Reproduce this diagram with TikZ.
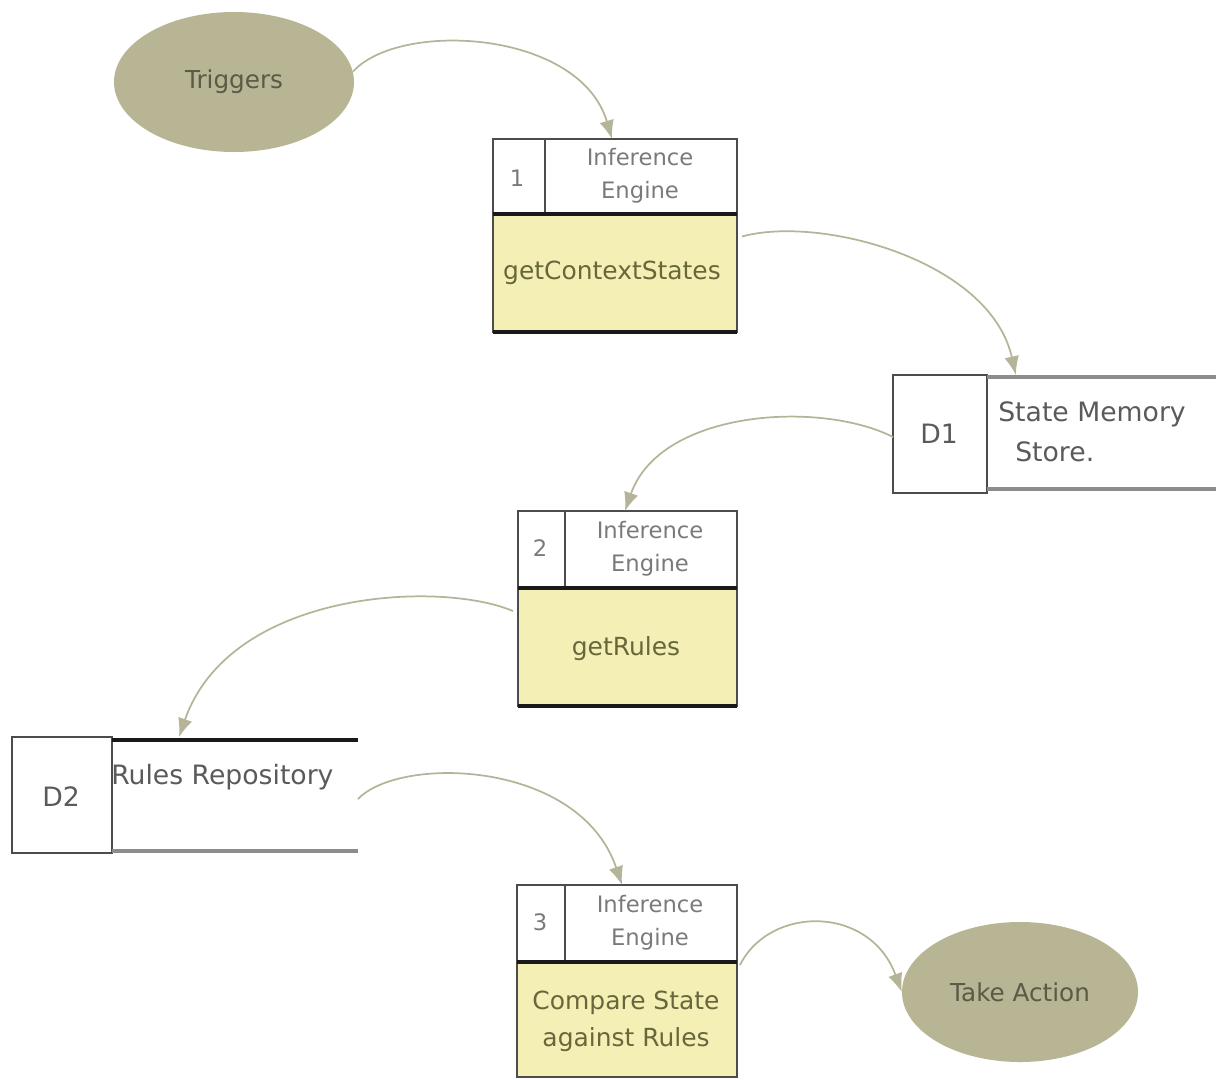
\documentclass[tikz,border=0pt]{standalone}
\usepackage{fontspec}
\setmainfont{DejaVu Sans}
\usetikzlibrary{shapes.geometric,arrows.meta}
\definecolor{olivefill}{HTML}{B7B593}
\definecolor{procyellow}{HTML}{F3EFB5}
\definecolor{flowcol}{HTML}{B5B498}
\definecolor{bodytext}{HTML}{68673C}
\definecolor{headtext}{HTML}{7A7A7A}
\definecolor{ovaltext}{HTML}{5A5A46}
\definecolor{storetext}{HTML}{5A5A5A}
\tikzset{
  oval/.style={ellipse, fill=olivefill, draw=none, text=ovaltext, font=\fontsize{18.5}{22}\selectfont, inner sep=0pt},
  hook/.style={draw=none, inner sep=0pt, outer sep=0pt},
  outline/.style={draw=black!70, line width=1.4pt},
  heavy/.style={draw=black!90, line width=2.4pt},
  openline/.style={draw=black!45, line width=2.4pt},
  headlbl/.style={text=headtext, font=\fontsize{17}{25}\selectfont, align=center, inner sep=0pt},
  numlbl/.style={text=headtext, font=\fontsize{17}{20}\selectfont, inner sep=0pt},
  bodylbl/.style={text=bodytext, font=\fontsize{18.7}{28}\selectfont, align=center, inner sep=0pt},
  storelbl/.style={text=storetext, font=\fontsize{20}{28}\selectfont, inner sep=0pt},
  flow/.style={draw=flowcol, line width=1.3pt, -{Latex[length=14pt,width=11pt]}},
}
\begin{document}
\begin{tikzpicture}[x=0.75pt,y=-0.75pt]
\useasboundingbox (0,0) rectangle (1216,1079);

% Triggers
\node[oval, minimum width=240*0.75pt, minimum height=140*0.75pt] (trig) at (234,82) {Triggers};

% Process 1
\node[hook, anchor=north west, minimum width=244*0.75pt, minimum height=193*0.75pt] (p1) at (493,139) {};
\fill[procyellow] (493,214) rectangle (737,332);
\draw[outline] (493,139) rectangle (737,332);
\draw[outline] (545,139) -- (545,214);
\draw[heavy] (493,214) -- (737,214);
\draw[heavy] (493,332) -- (737,332);
\node[numlbl] (n1) at (517,178) {1};
\node[headlbl] (h1) at (640,176) {Inference\\Engine};
\node[bodylbl] (b1) at (612,273) {getContextStates};

% Store D1
\node[hook, anchor=north west, minimum width=323*0.75pt, minimum height=118*0.75pt] (d1) at (893,375) {};
\draw[outline] (893,375) rectangle (987,493);
\draw[openline] (987,377) -- (1216,377);
\draw[openline] (987,489) -- (1216,489);
\node[storelbl] (d1id) at (939,434) {D1};
\node[storelbl, anchor=west] (d1a) at (998,414) {State Memory};
\node[storelbl, anchor=west] (d1b) at (1015,452) {Store.};

% Process 2
\node[hook, anchor=north west, minimum width=219*0.75pt, minimum height=195*0.75pt] (p2) at (518,511) {};
\fill[procyellow] (518,588) rectangle (737,706);
\draw[outline] (518,511) rectangle (737,706);
\draw[outline] (565,511) -- (565,588);
\draw[heavy] (518,588) -- (737,588);
\draw[heavy] (518,706) -- (737,706);
\node[numlbl] (n2) at (540,548) {2};
\node[headlbl] (h2) at (650,549) {Inference\\Engine};
\node[bodylbl] (b2) at (626,649) {getRules};

% Store D2
\node[hook, anchor=north west, minimum width=346*0.75pt, minimum height=116*0.75pt] (d2) at (12,737) {};
\draw[outline] (12,737) rectangle (112,853);
\draw[heavy] (112,740) -- (358,740);
\draw[openline] (112,851) -- (358,851);
\node[storelbl] (d2id) at (61,797) {D2};
\node[storelbl, anchor=west] (d2a) at (111,777) {Rules Repository};

% Process 3
\node[hook, anchor=north west, minimum width=220*0.75pt, minimum height=192*0.75pt] (p3) at (517,885) {};
\fill[procyellow] (517,962) rectangle (737,1077);
\draw[outline] (517,885) rectangle (737,1077);
\draw[outline] (565,885) -- (565,962);
\draw[heavy] (517,962) -- (737,962);
\node[numlbl] (n3) at (540,922) {3};
\node[headlbl] (h3) at (650,923) {Inference\\Engine};
\node[bodylbl] (b3) at (626,1021) {Compare State\\against Rules};

% Take Action
\node[oval, minimum width=236*0.75pt, minimum height=140*0.75pt] (act) at (1020,992) {Take Action};

% Flows
\draw[flow] (trig.5) .. controls (400,20) and (580,30) .. ([xshift=-2.25pt]p1.north);
\draw[flow] ([xshift=3.75pt,yshift=-0.75pt]p1.east) .. controls (820,215) and (990,260) .. ([xshift=-29pt]d1.north);
\draw[flow] ([yshift=-2.25pt]d1.west) .. controls (820,400) and (660,410) .. ([xshift=-1.9pt]p2.north);
\draw[flow] ([xshift=-3.75pt,yshift=-1.9pt]p2.west) .. controls (440,580) and (230,590) .. ([xshift=-4.5pt]d2.north);
\draw[flow] ([yshift=-3pt]d2.east) .. controls (400,755) and (580,760) .. ([xshift=-3.75pt]p3.north);
\draw[flow] ([xshift=2.25pt,yshift=12pt]p3.east) .. controls (770,905) and (870,905) .. (act.west);
\end{tikzpicture}
\end{document}
